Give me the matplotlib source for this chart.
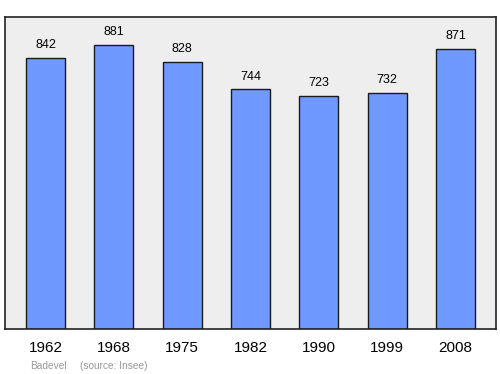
import matplotlib
matplotlib.use("Agg")
import matplotlib.pyplot as plt

plt.rcParams["font.family"] = ["Liberation Sans", "DejaVu Sans"]

years = ["1962", "1968", "1975", "1982", "1990", "1999", "2008"]
population = [842, 881, 828, 744, 723, 732, 871]
commune = "Badevel"
source = "(source: Insee)"

fig = plt.figure(figsize=(5, 3.74), dpi=100)
ax = fig.add_axes([0.01, 0.1203, 0.982, 0.8342])
ax.set_facecolor("#eeeeee")

x = range(len(years))
ax.bar(x, population, width=0.571, color="#7099ff", edgecolor="#1a1a1a", linewidth=1)
for xi, v in zip(x, population):
    ax.annotate(str(v), (xi, v), xytext=(0, 5), textcoords="offset points",
                ha="center", va="bottom", fontsize=9)

ax.set_xlim(-0.593, 6.593)
ax.set_ylim(0, 969)
ax.set_xticks(list(x))
ax.set_xticklabels(years, fontsize=11)
ax.tick_params(axis="x", length=0, pad=8.5)
ax.set_yticks([])
for s in ax.spines.values():
    s.set_color("#222222")
    s.set_linewidth(1.2)

fig.text(0.06, 0.008, commune, fontsize=7.3, color="#999999", ha="left", va="bottom")
fig.text(0.16, 0.008, source, fontsize=7.3, color="#999999", ha="left", va="bottom")

fig.savefig("out.png", dpi=100)
